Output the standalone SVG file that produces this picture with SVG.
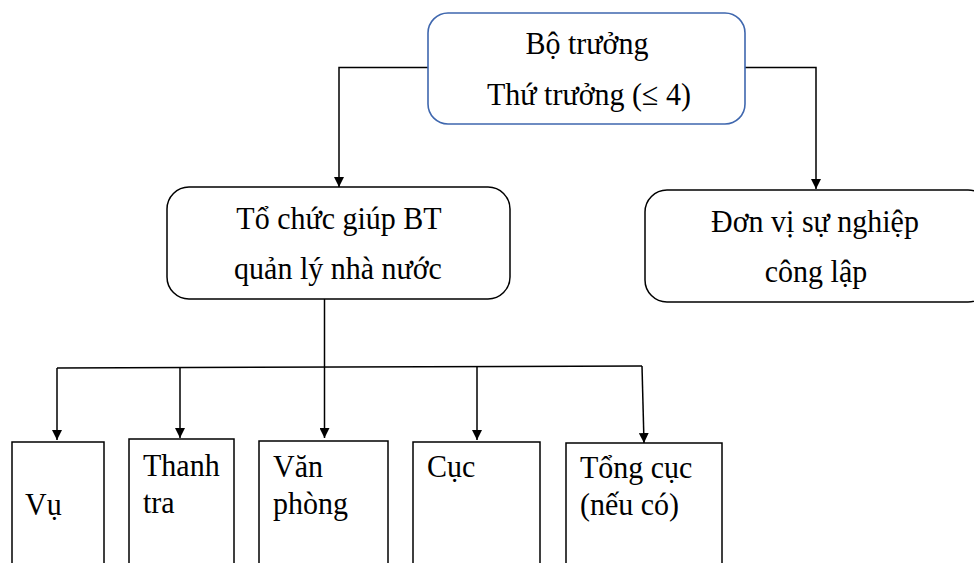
<svg xmlns="http://www.w3.org/2000/svg" width="974" height="563" viewBox="0 0 974 563">
<style>
text{font-family:"Liberation Serif","Times New Roman",serif;font-size:30px;fill:#000}
.c{text-anchor:middle}
.box{fill:#fff;stroke:#000;stroke-width:1.5}
.top{fill:#fff;stroke:#3F67AE;stroke-width:1.6}
.ln{fill:none;stroke:#000;stroke-width:1.5}
</style>
<defs>
<marker id="ah" viewBox="0 0 10 10" refX="10" refY="5" markerWidth="10" markerHeight="10" markerUnits="userSpaceOnUse" orient="auto">
<path d="M0,0 L10,5 L0,10 z" fill="#000"/>
</marker>
</defs>
<rect width="974" height="563" fill="#fff"/>
<g id="connectors">
<path class="ln" d="M428,67.5 H339 V187" marker-end="url(#ah)"/>
<path class="ln" d="M745,67.5 H816 V189" marker-end="url(#ah)"/>
<path class="ln" d="M324.5,299 V438" marker-end="url(#ah)"/>
<path class="ln" d="M57,368 L642,366"/>
<path class="ln" d="M57,368 V440" marker-end="url(#ah)"/>
<path class="ln" d="M180,367.5 V438" marker-end="url(#ah)"/>
<path class="ln" d="M477,367 V440" marker-end="url(#ah)"/>
<path class="ln" d="M642,366 L644,443" marker-end="url(#ah)"/>
</g>
<g id="bo-truong">
<rect class="top" x="428" y="13" width="317" height="111" rx="20"/>
<text class="c" transform="translate(587,54) scale(1,1.08)">Bộ trưởng</text>
<text class="c" transform="translate(589,105) scale(1,1.08)">Thứ trưởng (≤ 4)</text>
</g>
<g id="to-chuc">
<rect class="box" x="167" y="187" width="343" height="112" rx="22"/>
<text class="c" transform="translate(339,229) scale(1,1.07)">Tổ chức giúp BT</text>
<text class="c" transform="translate(338,279) scale(1,1.07)">quản lý nhà nước</text>
</g>
<g id="don-vi">
<rect class="box" x="645" y="190" width="345" height="112" rx="22"/>
<text class="c" transform="translate(815,232) scale(1,1.07)">Đơn vị sự nghiệp</text>
<text class="c" transform="translate(816,282) scale(1,1.07)">công lập</text>
</g>
<g id="vu">
<rect class="box" x="12" y="442" width="92" height="140"/>
<text transform="translate(25,515) scale(1,1.06)">Vụ</text>
</g>
<g id="thanh-tra">
<rect class="box" x="129" y="439" width="105" height="140"/>
<text transform="translate(143,476) scale(1,1.06)">Thanh</text>
<text transform="translate(143,513) scale(1,1.06)">tra</text>
</g>
<g id="van-phong">
<rect class="box" x="259" y="441" width="129" height="140"/>
<text transform="translate(273,477) scale(1,1.06)">Văn</text>
<text transform="translate(273,514) scale(1,1.06)">phòng</text>
</g>
<g id="cuc">
<rect class="box" x="413" y="442" width="127" height="140"/>
<text transform="translate(427,477) scale(1,1.06)">Cục</text>
</g>
<g id="tong-cuc">
<rect class="box" x="566" y="443" width="156" height="140"/>
<text transform="translate(580,478) scale(1,1.06)">Tổng cục</text>
<text transform="translate(580,515) scale(1,1.06)">(nếu có)</text>
</g>
</svg>
